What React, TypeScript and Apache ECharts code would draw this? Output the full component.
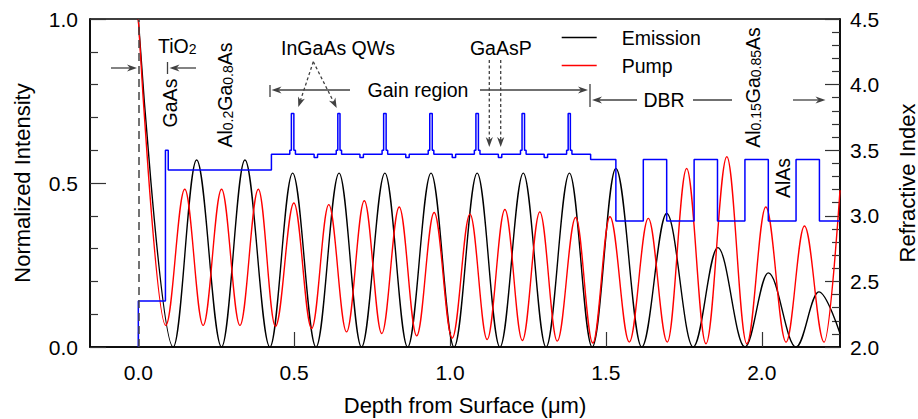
import React, { useEffect, useRef } from 'react';
import * as echarts from 'echarts';

// ---------- data ----------
const xTickValues = [0, 0.5, 1.0, 1.5, 2.0];
const seriesNames = ['Emission', 'Pump', 'Refractive Index'];

// Emission standing wave: extrema (depth in µm, normalized intensity)
const emissionDepth = [0, 0.112, 0.187, 0.267, 0.342, 0.422, 0.495, 0.570, 0.644, 0.716, 0.791, 0.864, 0.939, 1.013, 1.087, 1.160, 1.235, 1.308, 1.383, 1.456, 1.532, 1.615, 1.695, 1.780, 1.859, 1.946, 2.021, 2.110, 2.183, 2.251];
const emissionValue = [1.0, 0, 0.57, 0, 0.57, 0, 0.53, 0, 0.53, 0, 0.53, 0, 0.53, 0, 0.53, 0, 0.53, 0, 0.53, 0, 0.544, 0, 0.407, 0, 0.303, 0, 0.226, 0, 0.168, 0.041];

// Pump standing wave: extrema
const pumpDepth = [0, 0.088, 0.149, 0.208, 0.267, 0.326, 0.385, 0.440, 0.499, 0.556, 0.611, 0.668, 0.725, 0.781, 0.837, 0.893, 0.949, 1.007, 1.064, 1.119, 1.176, 1.232, 1.288, 1.344, 1.403, 1.458, 1.513, 1.575, 1.636, 1.697, 1.759, 1.821, 1.888, 1.952, 2.013, 2.078, 2.137, 2.200, 2.251];
const pumpValue = [1.0, 0.066, 0.481, 0.066, 0.481, 0.066, 0.481, 0.063, 0.439, 0.056, 0.434, 0.046, 0.446, 0.041, 0.427, 0.034, 0.410, 0.027, 0.405, 0.023, 0.419, 0.020, 0.412, 0.018, 0.395, 0.012, 0.397, 0.015, 0.392, 0.015, 0.544, 0.010, 0.580, 0.010, 0.427, 0.015, 0.369, 0.015, 0.478];

// Refractive index profile: layer start depth and index (held until next layer)
const indexDepth = [
  0, 0, 0.087, 0.096, 0.427,
  0.486, 0.491, 0.499, 0.504, 0.564, 0.575,
  0.635, 0.640, 0.647, 0.652, 0.711, 0.722,
  0.782, 0.787, 0.795, 0.800, 0.858, 0.869,
  0.930, 0.935, 0.943, 0.948, 1.007, 1.018,
  1.078, 1.083, 1.091, 1.096, 1.155, 1.166,
  1.226, 1.231, 1.239, 1.244, 1.302, 1.313,
  1.374, 1.379, 1.386, 1.391,
  1.451,
  1.532, 1.620, 1.695, 1.783, 1.858, 1.946, 2.021, 2.110, 2.185, 2.251,
];
const indexValue = [
  2.0, 2.35, 3.50, 3.35, 3.47,
  3.50, 3.78, 3.50, 3.47, 3.445, 3.47,
  3.50, 3.78, 3.50, 3.47, 3.445, 3.47,
  3.50, 3.78, 3.50, 3.47, 3.445, 3.47,
  3.50, 3.78, 3.50, 3.47, 3.445, 3.47,
  3.50, 3.78, 3.50, 3.47, 3.445, 3.47,
  3.50, 3.78, 3.50, 3.47, 3.445, 3.47,
  3.50, 3.78, 3.50, 3.47,
  3.43,
  2.96, 3.43, 2.96, 3.43, 2.96, 3.43, 2.96, 3.43, 2.96, 2.96,
];

// ---------- styling helpers ----------
const FONT = '"Liberation Sans", Arial, Helvetica, sans-serif';
const ANN = '#404040';
const ANN_FS = 19.5;

const RICH = {
  m: { fontSize: ANN_FS, lineHeight: 22, verticalAlign: 'bottom', fontFamily: FONT, fill: '#000' },
  s: { fontSize: 14, lineHeight: 10, verticalAlign: 'bottom', fontFamily: FONT, fill: '#000' },
};

function headPts(tx: number, ty: number, fx: number, fy: number) {
  const dx = tx - fx, dy = ty - fy;
  const n = Math.hypot(dx, dy) || 1;
  const ux = dx / n, uy = dy / n, px = -uy, py = ux;
  const L = 10, W = 3.6, N = 3;
  return [
    [tx, ty],
    [tx - L * ux + W * px, ty - L * uy + W * py],
    [tx - (L - N) * ux, ty - (L - N) * uy],
    [tx - L * ux - W * px, ty - L * uy - W * py],
  ];
}

function seg(x1: number, y1: number, x2: number, y2: number, dash?: number[]) {
  const style: any = { stroke: ANN, lineWidth: 1.3 };
  if (dash) style.lineDash = dash;
  return { type: 'line', silent: true, shape: { x1, y1, x2, y2 }, style };
}

function arrow(fx: number, fy: number, tx: number, ty: number, dash?: number[]) {
  const dx = tx - fx, dy = ty - fy;
  const n = Math.hypot(dx, dy) || 1;
  const ex = tx - (dx / n) * 7, ey = ty - (dy / n) * 7;
  return [
    seg(fx, fy, ex, ey, dash),
    { type: 'polygon', silent: true, shape: { points: headPts(tx, ty, fx, fy) }, style: { fill: ANN } },
  ];
}

function plain(text: string, x: number, y: number, rot = 0, align = 'center', va = 'middle') {
  return {
    type: 'text', silent: true, x, y, rotation: rot,
    style: { text, fill: '#000', fontSize: ANN_FS, fontFamily: FONT, align, verticalAlign: va },
  };
}

function richText(text: string, x: number, y: number, rot = 0, align = 'center', va = 'middle') {
  return {
    type: 'text', silent: true, x, y, rotation: rot,
    style: { text, rich: RICH, fill: '#000', fontFamily: FONT, fontSize: ANN_FS, align, verticalAlign: va },
  };
}

const R90 = Math.PI / 2;

function buildGraphics() {
  return [
    // TiO2 layer markers
    ...arrow(111, 68, 137, 68),
    seg(167.5, 62, 167.5, 74),
    ...arrow(196, 68, 169.5, 68),
    richText('{m|TiO}{s|2}', 158, 34, 0, 'left', 'top'),
    // GaAs cap and AlGaAs
    plain('GaAs', 170, 103, R90),
    richText('{m|Al}{s|0.2}{m|Ga}{s|0.8}{m|As}', 223.5, 95, R90),
    // InGaAs QWs
    plain('InGaAs QWs', 338, 48.3),
    ...arrow(313.3, 61.7, 298.3, 107, [3, 2.5]),
    ...arrow(313.3, 61.7, 336.7, 108, [3, 2.5]),
    // Gain region
    seg(270, 85, 270, 97),
    ...arrow(350, 90, 271.5, 90),
    plain('Gain region', 418, 90),
    ...arrow(480, 90, 588, 90),
    seg(590, 84, 590, 107),
    // GaAsP
    plain('GaAsP', 500.8, 48.3),
    ...arrow(489.3, 60, 489.3, 147, [3, 2.5]),
    ...arrow(500.7, 60, 500.7, 147, [3, 2.5]),
    // DBR
    ...arrow(637, 100, 592, 100),
    plain('DBR', 664, 100),
    seg(693, 100, 732, 100),
    ...arrow(793, 100, 825.5, 100),
    richText('{m|Al}{s|0.15}{m|Ga}{s|0.85}{m|As}', 751.7, 87.5, R90),
    plain('AlAs', 782.5, 178, R90),
  ];
}

export default function App() {
  const ref = useRef<HTMLDivElement>(null);

  useEffect(() => {
    const el = ref.current;
    if (!el) return;
    const chart = echarts.init(el, null, { renderer: 'svg' });

    const emission = emissionDepth.map((d, i) => [d, emissionValue[i]]);
    const pump = pumpDepth.map((d, i) => [d, pumpValue[i]]);
    const index = indexDepth.map((d, i) => [d, indexValue[i]]);

    const tickLine = { color: '#333', width: 1.2 };
    const labelStyle = { fontSize: 21, color: '#000', fontFamily: FONT };
    const nameStyle = { fontSize: 22, color: '#000', fontFamily: FONT };

    const option: any = {
      animation: false,
      textStyle: { fontFamily: FONT },
      grid: {
        left: 90, right: 78, top: 19, bottom: 72,
        containLabel: false,
        outerBoundsMode: 'none',
        show: true, borderColor: '#000', borderWidth: 1.5, backgroundColor: 'transparent',
      },
      legend: {
        data: [
          { name: seriesNames[0], icon: 'rect' },
          { name: seriesNames[1], icon: 'rect' },
        ],
        orient: 'vertical',
        left: 561.7,
        top: 27.5,
        padding: 0,
        itemWidth: 35,
        itemHeight: 1.5,
        itemGap: 8,
        textStyle: { fontSize: ANN_FS, color: '#000', fontFamily: FONT, padding: [0, 0, 0, 20] },
      },
      xAxis: {
        type: 'value',
        min: -0.155,
        max: 2.251,
        name: 'Depth from Surface (μm)',
        nameLocation: 'middle',
        nameGap: 47,
        nameTextStyle: nameStyle,
        axisLine: { onZero: false, lineStyle: { color: '#000', width: 1.5 } },
        axisTick: { inside: true, length: 15, lineStyle: tickLine, customValues: xTickValues },
        axisLabel: { margin: 15, ...labelStyle, customValues: xTickValues, formatter: (v: number) => v.toFixed(1) },
        splitLine: { show: false },
      },
      yAxis: [
        {
          type: 'value',
          min: 0, max: 1, interval: 0.5,
          position: 'left',
          name: 'Normalized Intensity',
          nameLocation: 'middle',
          nameGap: 57,
          nameRotate: 90,
          nameTextStyle: nameStyle,
          axisLine: { show: true, onZero: false, lineStyle: { color: '#000', width: 1.5 } },
          axisTick: { inside: true, length: 16, lineStyle: tickLine },
          minorTick: { show: true, splitNumber: 5, length: 8, lineStyle: tickLine },
          axisLabel: { margin: 12, ...labelStyle, formatter: (v: number) => v.toFixed(1) },
          splitLine: { show: false },
          minorSplitLine: { show: false },
        },
        {
          type: 'value',
          min: 2, max: 4.5, interval: 0.5,
          position: 'right',
          name: 'Refractive Index',
          nameLocation: 'middle',
          nameGap: 56,
          nameRotate: 90,
          nameTextStyle: nameStyle,
          axisLine: { show: true, onZero: false, lineStyle: { color: '#000', width: 1.5 } },
          axisTick: { inside: true, length: 15, lineStyle: tickLine },
          minorTick: { show: true, splitNumber: 5, length: 8, lineStyle: tickLine },
          axisLabel: { margin: 10, ...labelStyle, formatter: (v: number) => v.toFixed(1) },
          splitLine: { show: false },
          minorSplitLine: { show: false },
        },
      ],
      series: [
        {
          name: seriesNames[0],
          type: 'line',
          data: emission,
          yAxisIndex: 0,
          smooth: 0.3634,
          smoothMonotone: 'x',
          symbol: 'none',
          lineStyle: { color: '#000', width: 1.4 },
          itemStyle: { color: '#000' },
          markLine: {
            silent: true,
            symbol: ['none', 'none'],
            label: { show: false },
            lineStyle: { color: '#444', type: [8, 5], width: 1.5 },
            data: [{ xAxis: 0 }],
          },
        },
        {
          name: seriesNames[1],
          type: 'line',
          data: pump,
          yAxisIndex: 0,
          smooth: 0.3634,
          smoothMonotone: 'x',
          symbol: 'none',
          lineStyle: { color: '#ff0000', width: 1.4 },
          itemStyle: { color: '#ff0000' },
        },
        {
          name: seriesNames[2],
          type: 'line',
          data: index,
          yAxisIndex: 1,
          step: 'end',
          symbol: 'none',
          lineStyle: { color: '#0000ff', width: 1.5 },
          itemStyle: { color: '#0000ff' },
        },
      ],
      graphic: buildGraphics(),
    };

    chart.setOption(option);
    return () => chart.dispose();
  }, []);

  return (
    <div
      ref={ref}
      style={{ position: 'fixed', left: 0, top: 0, width: 918, height: 419, background: '#fff' }}
    />
  );
}
